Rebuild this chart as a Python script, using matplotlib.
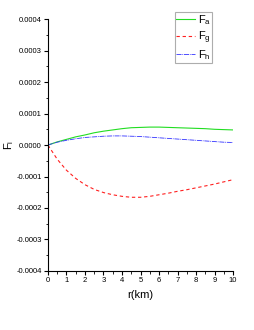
import numpy as np
import matplotlib
matplotlib.use('Agg')
import matplotlib.pyplot as plt
from matplotlib.ticker import MultipleLocator, FormatStrFormatter

plt.rcParams['font.family'] = ['Liberation Sans', 'DejaVu Sans']
plt.rcParams['mathtext.default'] = 'regular'

r = np.arange(0, 10.01, 0.5)
Fa = [0, 0.000010, 0.000018, 0.000026, 0.000032, 0.000039, 0.000044, 0.000048, 0.000052, 0.000055,
      0.000056, 0.000057, 0.000057, 0.000056, 0.000055, 0.000054, 0.000053, 0.000052, 0.000050, 0.000049, 0.000048]
Fg = [0, -0.000045, -0.000080, -0.000106, -0.000126, -0.000141, -0.000151, -0.000158, -0.000163, -0.000166,
      -0.000166, -0.000163, -0.000158, -0.000153, -0.000147, -0.000142, -0.000136, -0.000130, -0.000124, -0.000117, -0.000110]
Fh = [0, 0.000009, 0.000015, 0.000020, 0.000024, 0.000026, 0.000028, 0.000029, 0.000029, 0.000028,
      0.000027, 0.000025, 0.000023, 0.000021, 0.000019, 0.000017, 0.000015, 0.000013, 0.000011, 0.000009, 0.000008]

fig = plt.figure(figsize=(2.55, 3.3), dpi=100)
ax = fig.add_axes([0.188, 0.179, 0.726, 0.763])

ax.plot(r, Fa, color='#22dd22', lw=0.8, label='F$_{a}$')
ax.plot(r, Fg, color='#ff2020', lw=0.8, ls=(0, (3, 2.5)), label='F$_{g}$')
ax.plot(r, Fh, color='#3333ff', lw=0.6, ls=(0, (6, 1, 1, 1)), label='F$_{h}$')

ax.set_xlim(0, 10)
ax.set_ylim(-0.0004, 0.0004)
ax.xaxis.set_major_locator(MultipleLocator(1))
ax.xaxis.set_minor_locator(MultipleLocator(0.5))
ax.yaxis.set_major_locator(MultipleLocator(0.0001))
ax.yaxis.set_minor_locator(MultipleLocator(0.00005))
ax.yaxis.set_major_formatter(FormatStrFormatter('%.4f'))
ax.spines['top'].set_visible(False)
ax.spines['right'].set_visible(False)
ax.tick_params(which='major', direction='out', length=3, width=0.8, labelsize=5.5, pad=1.5)
ax.tick_params(which='minor', direction='out', length=1.8, width=0.6)

ax.set_xlabel('r(km)', fontsize=8, labelpad=4)
ax.set_ylabel('F$_{i}$', fontsize=8)
ax.yaxis.set_label_coords(-0.175, 0.5)

leg = ax.legend(loc='upper left', bbox_to_anchor=(0.685, 1.03), fontsize=8, frameon=True,
                fancybox=False, edgecolor='#999999', handlelength=1.7, handletextpad=0.2,
                borderpad=0.15, labelspacing=0.2, borderaxespad=0)
leg.get_frame().set_linewidth(0.8)

fig.savefig('out.png', dpi=100)
